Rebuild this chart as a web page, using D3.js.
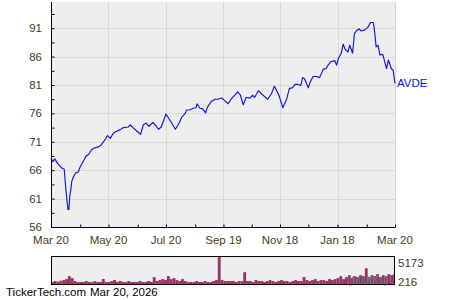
<!DOCTYPE html>
<html><head><meta charset="utf-8">
<script src="https://cdn.jsdelivr.net/npm/d3@7"></script>
<style>body{margin:0;background:#fff}svg{display:block;font-family:"Liberation Sans",Arial,sans-serif}</style>
</head><body><svg id="c" width="450" height="300"></svg>
<script>
const seriesName = "AVDE";
const priceDates = ["2025-03-20","2025-03-22","2025-03-24","2025-03-27","2025-03-29","2025-04-01","2025-04-03","2025-04-05","2025-04-07","2025-04-08","2025-04-09","2025-04-10","2025-04-11","2025-04-13","2025-04-15","2025-04-18","2025-04-20","2025-04-23","2025-04-26","2025-04-29","2025-05-02","2025-05-05","2025-05-09","2025-05-12","2025-05-16","2025-05-19","2025-05-22","2025-05-25","2025-05-28","2025-06-01","2025-06-05","2025-06-10","2025-06-12","2025-06-15","2025-06-19","2025-06-23","2025-06-26","2025-06-29","2025-07-02","2025-07-06","2025-07-10","2025-07-12","2025-07-15","2025-07-20","2025-07-23","2025-07-26","2025-07-30","2025-08-03","2025-08-06","2025-08-09","2025-08-11","2025-08-14","2025-08-18","2025-08-21","2025-08-22","2025-08-25","2025-08-28","2025-08-31","2025-09-02","2025-09-06","2025-09-10","2025-09-13","2025-09-17","2025-09-20","2025-09-24","2025-09-27","2025-10-01","2025-10-04","2025-10-07","2025-10-10","2025-10-13","2025-10-17","2025-10-20","2025-10-22","2025-10-26","2025-10-29","2025-11-02","2025-11-05","2025-11-09","2025-11-12","2025-11-15","2025-11-17","2025-11-21","2025-11-25","2025-11-28","2025-12-01","2025-12-04","2025-12-07","2025-12-10","2025-12-12","2025-12-14","2025-12-18","2025-12-20","2025-12-23","2025-12-27","2025-12-30","2026-01-03","2026-01-06","2026-01-08","2026-01-11","2026-01-15","2026-01-17","2026-01-19","2026-01-22","2026-01-24","2026-01-26","2026-01-29","2026-01-31","2026-02-03","2026-02-05","2026-02-08","2026-02-10","2026-02-12","2026-02-16","2026-02-19","2026-02-22","2026-02-25","2026-02-26","2026-02-28","2026-03-02","2026-03-04","2026-03-07","2026-03-11","2026-03-13","2026-03-16","2026-03-18","2026-03-20"];
const priceValues = [68.1,67.5,68.0,67.2,66.8,66.3,66.2,62.2,59.1,59.1,61.6,62.5,64.0,64.9,65.5,65.7,66.6,67.5,68.4,68.8,69.6,69.9,70.1,70.4,71.3,72.1,71.6,72.5,72.8,73.1,73.5,73.6,74.0,73.5,72.9,72.3,74.0,74.3,73.7,74.4,73.7,73.2,73.6,75.9,75.1,74.3,73.2,74.3,75.4,75.9,76.6,76.6,76.9,77.0,77.7,76.9,76.8,76.1,77.1,78.1,78.5,78.5,78.7,78.3,77.7,78.5,79.2,79.8,79.2,77.5,78.8,78.7,79.2,78.8,80.0,79.5,78.9,78.5,79.5,80.8,79.8,79.1,77.0,78.5,80.4,80.5,81.1,81.1,80.9,82.3,82.1,80.5,81.5,82.5,82.5,82.3,83.8,83.9,84.5,85.1,85.3,84.5,85.7,86.6,88.2,87.3,86.8,88.0,86.6,90.1,90.7,90.9,90.5,90.7,91.1,92.0,92.0,91.0,87.7,88.0,86.3,86.4,83.9,85.4,83.9,83.6,81.3];
const yTickValues = [56,61,66,71,76,81,86,91];
const yMinorValues = [58.5,63.5,68.5,73.5,78.5,83.5,88.5,93.5];
const xTickDates = ["2025-03-20","2025-05-20","2025-07-20","2025-09-19","2025-11-18","2026-01-18","2026-03-20"];
const xTickLabels = ["Mar 20","May 20","Jul 20","Sep 19","Nov 18","Jan 18","Mar 20"];
const xMinorDates = ["2025-04-20","2025-06-20","2025-08-20","2025-10-19","2025-12-18","2026-02-18"];
const volumeStart = "2025-03-20";
const volumeStepDays = 3;
const volumeValues = [380,560,420,600,730,920,1480,1110,560,380,
 390,370,560,400,380,540,370,390,930,380,
 380,560,750,380,560,380,380,560,370,390,
 380,560,380,380,560,380,1300,560,740,920,
 740,1480,920,1110,740,560,920,560,380,380,
 380,560,380,380,560,380,380,560,740,5173,
 740,560,560,560,560,380,560,560,2220,560,
 560,380,740,560,560,380,560,740,560,380,
 560,740,560,560,380,560,740,560,560,1300,
 740,560,740,920,560,740,740,560,920,740,
 920,1110,1480,920,1300,1660,1110,1480,1300,1660,
 1480,2960,1300,1660,1480,1850,1300,1660,1480,1850,
 1660,1850];
const volumeLabels = ["5173","216"];
const volumeMax = 5173;
const footerSite = "TickerTech.com";
const footerDate = "Mar 20, 2026";

const parse = d3.utcParse("%Y-%m-%d");
const svg = d3.select("#c");
const L = 51, R = 395, T = 2, B = 227;
const x = d3.scaleUtc().domain([parse(xTickDates[0]), parse(xTickDates[xTickDates.length-1])]).range([L, R]);
const y = d3.scaleLinear().domain([56, 56 + (B - T) / 5.68]).range([B, T]);
const labelColor = "#463a1c";

svg.append("rect").attr("x", L).attr("y", T).attr("width", R - L).attr("height", B - T).attr("fill", "#eeeeee");

// grid
svg.append("g").selectAll("line").data(yTickValues.slice(1)).join("line")
  .attr("x1", L).attr("x2", R).attr("y1", d => Math.round(y(d)) + 0.5).attr("y2", d => Math.round(y(d)) + 0.5)
  .attr("stroke", "#d9d9d9");
svg.append("g").selectAll("line").data(xTickDates.slice(1)).join("line")
  .attr("x1", d => Math.round(x(parse(d))) + 0.5).attr("x2", d => Math.round(x(parse(d))) + 0.5)
  .attr("y1", T).attr("y2", B).attr("stroke", "#d9d9d9");

// line
const line = d3.line().x((d, i) => x(parse(priceDates[i]))).y(d => y(d));
svg.append("path").datum(priceValues).attr("d", line).attr("fill", "none")
  .attr("stroke", "#1010ee").attr("stroke-width", 1.15).attr("stroke-linejoin", "round");

// axes
const yAxis = d3.axisRight(y).tickValues(yTickValues).tickSize(3).tickFormat("");
const gy = svg.append("g").attr("transform", `translate(${L + 0.5},0)`).call(yAxis);
const gy2 = svg.append("g").attr("transform", `translate(${L + 0.5},0)`).call(d3.axisRight(y).tickValues(yMinorValues).tickSize(3).tickFormat(""));
[gy, gy2].forEach(g => { g.select(".domain").remove(); g.selectAll("line").attr("stroke", "#000"); });
svg.append("g").selectAll("text").data(yTickValues).join("text")
  .attr("x", 42).attr("y", d => y(d) + 4).attr("text-anchor", "end")
  .attr("font-size", 11.5).attr("fill", labelColor).text(d => d);

const gx = svg.append("g").attr("transform", `translate(0,${B + 0.5})`)
  .call(d3.axisTop(x).tickValues(xTickDates.map(parse)).tickSize(3).tickFormat(""));
const gx2 = svg.append("g").attr("transform", `translate(0,${B + 0.5})`)
  .call(d3.axisTop(x).tickValues(xMinorDates.map(parse)).tickSize(3).tickFormat(""));
[gx, gx2].forEach(g => { g.select(".domain").remove(); g.selectAll("line").attr("stroke", "#000"); });
svg.append("g").selectAll("text").data(xTickDates).join("text")
  .attr("x", d => x(parse(d))).attr("y", 244).attr("text-anchor", "middle")
  .attr("font-size", 11.5).attr("fill", labelColor).text((d, i) => xTickLabels[i]);

svg.append("line").attr("x1", L + 0.5).attr("x2", L + 0.5).attr("y1", T).attr("y2", B + 1).attr("stroke", "#000");
svg.append("line").attr("x1", L).attr("x2", R + 0.5).attr("y1", B + 0.5).attr("y2", B + 0.5).attr("stroke", "#000");

// series label
svg.append("text").attr("x", 397).attr("y", y(priceValues[priceValues.length - 1]) + 4)
  .attr("font-size", 11.5).attr("fill", "#1010ee").text(seriesName);

// volume panel
const VT = 256, VB = 285;
svg.append("rect").attr("x", L + 0.5).attr("y", VT + 0.5).attr("width", R - L - 1).attr("height", VB - VT - 1)
  .attr("fill", "#eeeeee").attr("stroke", "none");
const vy = d3.scaleLinear().domain([0, volumeMax]).range([VB - 1, VT + 0.5]);
const start = parse(volumeStart);
const vDates = volumeValues.map((v, i) => d3.utcDay.offset(start, i * volumeStepDays));
const barW = x(d3.utcDay.offset(start, volumeStepDays)) - x(start);
svg.append("g").selectAll("rect").data(volumeValues).join("rect")
  .attr("x", (d, i) => x(vDates[i])).attr("width", (d, i) => Math.min(barW, R - 1 - x(vDates[i])))
  .attr("y", d => vy(d)).attr("height", d => (VB - 1) - vy(d))
  .attr("fill", "#993366");
svg.append("rect").attr("x", L + 0.5).attr("y", VT + 0.5).attr("width", R - L - 1).attr("height", VB - VT - 1)
  .attr("fill", "none").attr("stroke", "#000");
svg.append("text").attr("x", 347).attr("y", 284).attr("font-size", 11.5).attr("fill", "#4d7d6d").text("(1000's)");
svg.append("text").attr("x", 398).attr("y", 267).attr("font-size", 11.5).attr("fill", labelColor).text(volumeLabels[0]);
svg.append("text").attr("x", 398).attr("y", 286).attr("font-size", 11.5).attr("fill", labelColor).text(volumeLabels[1]);

// footer
svg.append("text").attr("x", 6).attr("y", 296).attr("font-size", 11.5).attr("fill", "#000").text(footerSite);
svg.append("text").attr("x", 90).attr("y", 296).attr("font-size", 11.5).attr("fill", "#000").text(footerDate);
</script></body></html>
